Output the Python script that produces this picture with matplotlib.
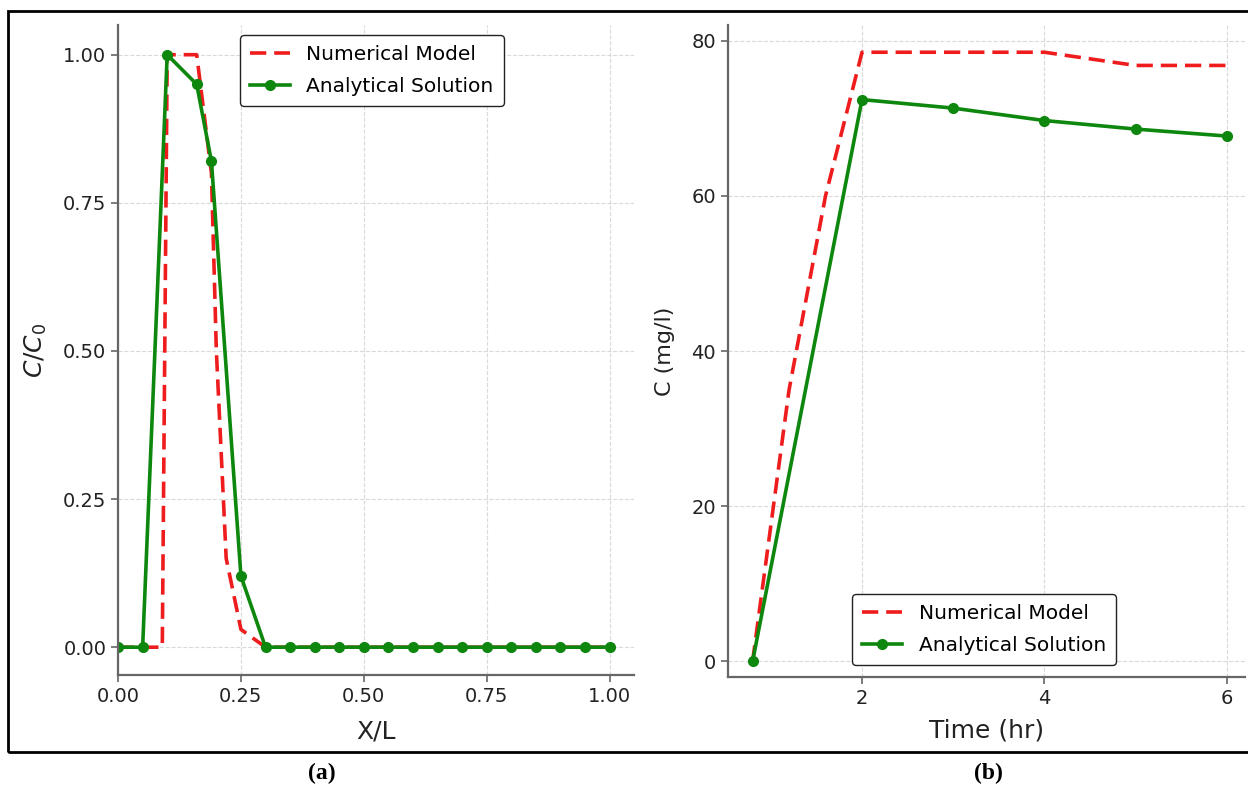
import numpy as np
import matplotlib
matplotlib.use("Agg")
import matplotlib.pyplot as plt
from matplotlib.patches import Rectangle

# (a) profil de concentration le long de la colonne
xl_num = [0.0, 0.09, 0.10, 0.16, 0.19, 0.20, 0.22, 0.25, 0.30, 0.35, 0.40, 0.45, 0.50,
          0.55, 0.60, 0.65, 0.70, 0.75, 0.80, 0.85, 0.90, 0.95, 1.00]
c_num = [0.0, 0.0, 1.0, 1.0, 0.80, 0.50, 0.15, 0.03, 0.0, 0.0, 0.0, 0.0, 0.0,
         0.0, 0.0, 0.0, 0.0, 0.0, 0.0, 0.0, 0.0, 0.0, 0.0]
xl_ana = [0.0, 0.05, 0.10, 0.16, 0.19, 0.25, 0.30, 0.35, 0.40, 0.45, 0.50,
          0.55, 0.60, 0.65, 0.70, 0.75, 0.80, 0.85, 0.90, 0.95, 1.00]
c_ana = [0.0, 0.0, 1.0, 0.95, 0.82, 0.12, 0.0, 0.0, 0.0, 0.0, 0.0,
         0.0, 0.0, 0.0, 0.0, 0.0, 0.0, 0.0, 0.0, 0.0, 0.0]

# (b) concentration en fonction du temps
t_num = [0.8, 1.2, 1.6, 2.0, 3.0, 4.0, 5.0, 6.0]
cb_num = [0.0, 35.0, 60.0, 78.5, 78.5, 78.5, 76.8, 76.8]
t_ana = [0.8, 2.0, 3.0, 4.0, 5.0, 6.0]
cb_ana = [0.0, 72.4, 71.3, 69.7, 68.6, 67.7]

fig = plt.figure(figsize=(12.48, 7.91), dpi=100)

ax1 = fig.add_axes([0.0946, 0.1466, 0.4135, 0.8217])
ax2 = fig.add_axes([0.5833, 0.1441, 0.4143, 0.8242])

red = "#ee1c1c"
grn = "#0d870d"

ax1.plot(xl_num, c_num, "--", color=red, lw=2.6, label="Numerical Model", dashes=(4.5, 2.2))
ax1.plot(xl_ana, c_ana, "-o", color=grn, lw=2.6, ms=7, label="Analytical Solution")
ax1.set_xlim(0, 1.05)
ax1.set_ylim(-0.047, 1.05)
ax1.set_xticks([0, 0.25, 0.5, 0.75, 1.0])
ax1.set_yticks([0, 0.25, 0.5, 0.75, 1.0])
ax1.xaxis.set_major_formatter(matplotlib.ticker.FormatStrFormatter("%.2f"))
ax1.yaxis.set_major_formatter(matplotlib.ticker.FormatStrFormatter("%.2f"))
ax1.set_xlabel("X/L", fontsize=18, color="#222222", labelpad=10)
ax1.set_ylabel("$C/C_0$", fontsize=18, color="#222222", labelpad=10)
ax1.legend(loc="upper left", bbox_to_anchor=(0.236, 0.985), borderaxespad=0, fontsize=14.5,
           handlelength=2.0, labelspacing=0.65, borderpad=0.5,
           edgecolor="#222222", framealpha=1)

ax2.plot(t_num, cb_num, "--", color=red, lw=2.6, label="Numerical Model", dashes=(4.5, 2.2))
ax2.plot(t_ana, cb_ana, "-o", color=grn, lw=2.6, ms=7, label="Analytical Solution")
ax2.set_xlim(0.53, 6.2)
ax2.set_ylim(-2.0, 82.0)
ax2.set_xticks([2, 4, 6])
ax2.set_yticks([0, 20, 40, 60, 80])
ax2.set_xlabel("Time (hr)", fontsize=18, color="#222222", labelpad=8)
ax2.set_ylabel("C (mg/l)", fontsize=16, color="#222222", labelpad=12)
ax2.legend(loc="lower left", bbox_to_anchor=(0.24, 0.018), borderaxespad=0, fontsize=14.5,
           handlelength=2.0, labelspacing=0.65, borderpad=0.5,
           edgecolor="#222222", framealpha=1)

for ax in (ax1, ax2):
    ax.spines["top"].set_visible(False)
    ax.spines["right"].set_visible(False)
    for s in ("left", "bottom"):
        ax.spines[s].set_color("#666666")
        ax.spines[s].set_linewidth(1.6)
    ax.tick_params(labelsize=14, colors="#666666", labelcolor="#222222", width=1.2, length=5)
    ax.grid(True, ls="--", lw=0.8, color="#d0d0d0", alpha=0.8)

# cadre noir autour des deux graphes
fig.patches.append(Rectangle((8 / 1248, 1 - 752 / 791), 1.0, 741 / 791,
                             transform=fig.transFigure, fill=False, ec="black", lw=2))

fig.text(322 / 1248, 1 - 773 / 791, "(a)", fontsize=17, fontweight="bold",
         family="Liberation Serif", ha="center", va="center")
fig.text(988 / 1248, 1 - 773 / 791, "(b)", fontsize=17, fontweight="bold",
         family="Liberation Serif", ha="center", va="center")

fig.savefig("out.png", dpi=100)
